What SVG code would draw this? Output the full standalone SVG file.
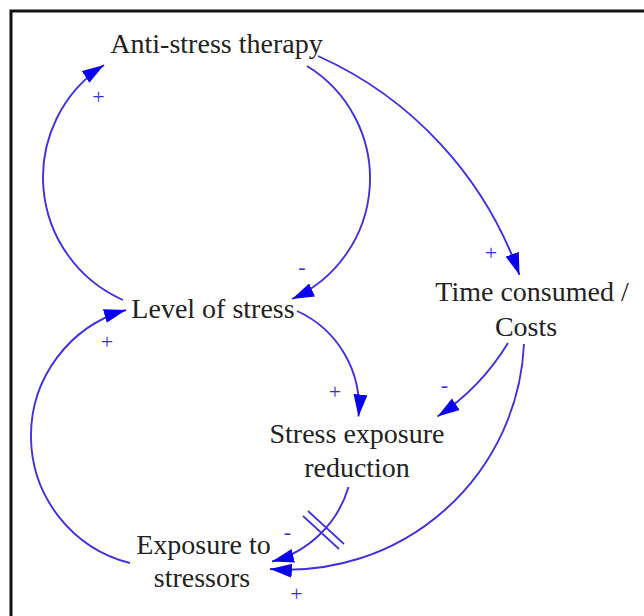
<svg xmlns="http://www.w3.org/2000/svg" width="644" height="616" viewBox="0 0 644 616">
<style>
.lbl{font-family:"Liberation Serif","Times New Roman",serif;font-size:28px;fill:#222;text-anchor:middle}
.sg{font-family:"Liberation Serif","Times New Roman",serif;font-size:22px;fill:#3a2fe0;text-anchor:middle}
.ln{fill:none;stroke:#4030e0;stroke-width:1.9}
.dl{stroke:#4030e0;stroke-width:1.7}
</style>
<defs>
<marker id="ah" markerUnits="userSpaceOnUse" markerWidth="24" markerHeight="16" refX="22" refY="7" orient="auto">
<path d="M0,0 L22,7 L0,14 z" fill="#0a00f0"/>
</marker>
</defs>
<rect width="644" height="616" fill="#fff"/>
<path d="M11,616 V11 H644" fill="none" stroke="#111" stroke-width="3"/>
<g id="connectors">
<path id="c1" class="ln" d="M123,300 A134,134 0 0,1 104,65" marker-end="url(#ah)"/>
<path id="c2" class="ln" d="M307,66 A132,132 0 0,1 292,299" marker-end="url(#ah)"/>
<path id="c3" class="ln" d="M318,56 A377,377 0 0,1 519.5,275" marker-end="url(#ah)"/>
<path id="c4" class="ln" d="M297,311 A105.5,105.5 0 0,1 358.5,416.5" marker-end="url(#ah)"/>
<path id="c5" class="ln" d="M508,343 A234,234 0 0,1 437.5,416.5" marker-end="url(#ah)"/>
<path id="c6" class="ln" d="M524,344 A236.5,236.5 0 0,1 270,569" marker-end="url(#ah)"/>
<path id="c7" class="ln" d="M348.5,487 A109,109 0 0,1 272,561.5" marker-end="url(#ah)"/>
<line class="dl" x1="303" y1="516" x2="339" y2="549"/>
<line class="dl" x1="308" y1="511" x2="344" y2="544"/>
<path id="c8" class="ln" d="M130,563 A131,131 0 0,1 126,310" marker-end="url(#ah)"/>
<text class="sg" x="98.5" y="104">+</text>
<text class="sg" x="302" y="274">-</text>
<text class="sg" x="491" y="259.5">+</text>
<text class="sg" x="335" y="399">+</text>
<text class="sg" x="444.5" y="392">-</text>
<text class="sg" x="107" y="349">+</text>
<text class="sg" x="287.5" y="539">-</text>
<text class="sg" x="296.5" y="601">+</text>
</g>
<g id="anti-stress-therapy"><text class="lbl" x="216.5" y="53">Anti-stress therapy</text></g>
<g id="level-of-stress"><text class="lbl" x="213" y="318">Level of stress</text></g>
<g id="time-consumed-costs"><text class="lbl" x="532" y="300.5">Time consumed /</text><text class="lbl" x="526" y="335.5">Costs</text></g>
<g id="stress-exposure-reduction"><text class="lbl" x="357" y="443">Stress exposure</text><text class="lbl" x="357" y="477">reduction</text></g>
<g id="exposure-to-stressors"><text class="lbl" x="203.5" y="553.5">Exposure to</text><text class="lbl" x="202" y="587">stressors</text></g>
</svg>
